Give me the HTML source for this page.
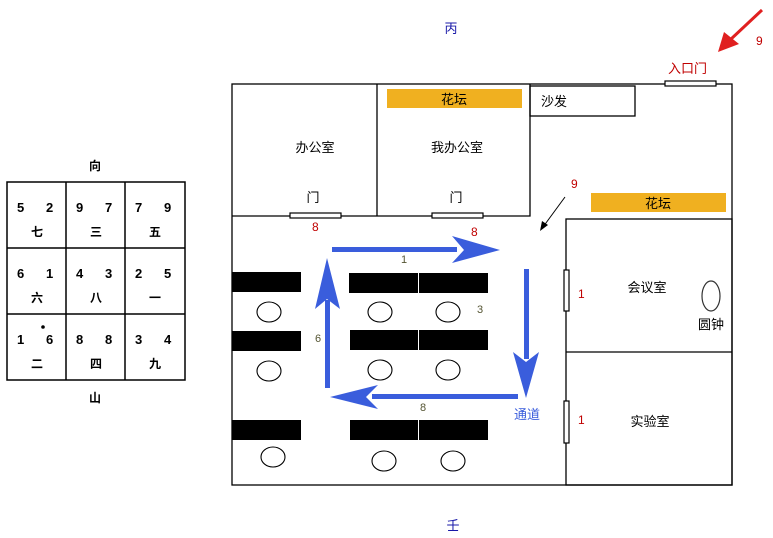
<!DOCTYPE html>
<html><head><meta charset="utf-8"><style>
html,body{margin:0;padding:0;background:#fff;width:773px;height:538px;overflow:hidden}
svg{display:block}
text{font-family:"Liberation Sans","Noto Sans CJK SC",sans-serif}
</style></head><body>
<svg width="773" height="538" viewBox="0 0 773 538" xmlns="http://www.w3.org/2000/svg">
<!-- grid -->
<g fill="none" stroke="#000" stroke-width="1.5">
<rect x="7" y="182" width="178" height="198"/>
<line x1="66" y1="182" x2="66" y2="380"/><line x1="125" y1="182" x2="125" y2="380"/>
<line x1="7" y1="248" x2="185" y2="248"/><line x1="7" y1="314" x2="185" y2="314"/>
</g>
<g font-size="13" font-weight="bold" fill="#000" font-family="Liberation Sans,Noto Sans CJK SC,sans-serif">
<text x="95" y="170" text-anchor="middle" font-size="12">向</text>
<text x="95" y="402" text-anchor="middle" font-size="12">山</text>
<text x="17" y="212">5</text><text x="46" y="212">2</text>
<text x="76" y="212">9</text><text x="105" y="212">7</text>
<text x="135" y="212">7</text><text x="164" y="212">9</text>
<text x="17" y="278">6</text><text x="46" y="278">1</text>
<text x="76" y="278">4</text><text x="105" y="278">3</text>
<text x="135" y="278">2</text><text x="164" y="278">5</text>
<text x="17" y="344">1</text><text x="46" y="344">6</text>
<text x="76" y="344">8</text><text x="105" y="344">8</text>
<text x="135" y="344">3</text><text x="164" y="344">4</text>
<g font-size="12" text-anchor="middle">
<text x="37" y="236">七</text><text x="96" y="236">三</text><text x="155" y="236">五</text>
<text x="37" y="302">六</text><text x="96" y="302">八</text><text x="155" y="302">一</text>
<text x="37" y="368">二</text><text x="96" y="368">四</text><text x="155" y="368">九</text>
</g></g>
<circle cx="43" cy="327" r="1.8" fill="#000"/>
<!-- building -->
<g fill="none" stroke="#000" stroke-width="1.3">
<rect x="232" y="84" width="500" height="401"/>
<polyline points="232,216 530,216 530,84"/>
<line x1="377" y1="84" x2="377" y2="216"/>
<rect x="566" y="219" width="166" height="266"/>
<line x1="566" y1="352" x2="732" y2="352"/>
<rect x="530" y="86" width="105" height="30"/>
</g>
<rect x="387" y="89" width="135" height="19" fill="#f0b020"/>
<rect x="591" y="193" width="135" height="19" fill="#f0b020"/>
<g fill="#fff" stroke="#000" stroke-width="1.2">
<rect x="290" y="213" width="51" height="5"/>
<rect x="432" y="213" width="51" height="5"/>
<rect x="665" y="81" width="51" height="5"/>
<rect x="564" y="270" width="5" height="41"/>
<rect x="564" y="401" width="5" height="42"/>
</g>
<g font-size="13" fill="#000" text-anchor="middle">
<text x="454" y="104">花坛</text>
<text x="658" y="208">花坛</text>
<text x="541" y="106" text-anchor="start">沙发</text>
<text x="315" y="152">办公室</text>
<text x="457" y="152">我办公室</text>
<text x="313" y="202">门</text>
<text x="456" y="202">门</text>
<text x="647" y="292">会议室</text>
<text x="711" y="329">圆钟</text>
<text x="650" y="426">实验室</text>
</g>
<ellipse cx="711" cy="296" rx="9" ry="15" fill="none" stroke="#333" stroke-width="1.2"/>
<g font-size="12" fill="#c00000">
<text x="312" y="231">8</text><text x="471" y="236">8</text>
<text x="578" y="298">1</text><text x="578" y="424">1</text>
<text x="571" y="188">9</text><text x="756" y="45">9</text>
<text x="668" y="73" font-size="13">入口门</text>
</g>
<text x="451" y="33" font-size="13" fill="#1818a8" text-anchor="middle">丙</text>
<text x="453" y="530" font-size="13" fill="#1818a8" text-anchor="middle">壬</text>
<!-- desks -->
<g fill="#000">
<rect x="232" y="272" width="69" height="20"/><rect x="232" y="331" width="69" height="20"/><rect x="232" y="420" width="69" height="20"/>
<rect x="349" y="273" width="69" height="20"/><rect x="419" y="273" width="69" height="20"/>
<rect x="350" y="330" width="68" height="20"/><rect x="419" y="330" width="69" height="20"/>
<rect x="350" y="420" width="68" height="20"/><rect x="419" y="420" width="69" height="20"/>
</g>
<g fill="none" stroke="#000" stroke-width="1.1">
<ellipse cx="269" cy="312" rx="12" ry="10"/><ellipse cx="269" cy="371" rx="12" ry="10"/><ellipse cx="273" cy="457" rx="12" ry="10"/>
<ellipse cx="380" cy="312" rx="12" ry="10"/><ellipse cx="448" cy="312" rx="12" ry="10"/>
<ellipse cx="380" cy="370" rx="12" ry="10"/><ellipse cx="448" cy="370" rx="12" ry="10"/>
<ellipse cx="384" cy="461" rx="12" ry="10"/><ellipse cx="453" cy="461" rx="12" ry="10"/>
</g>
<!-- blue arrows -->
<g fill="#3a5ddc">
<rect x="332" y="247" width="125" height="5"/><polygon points="452,236 500,250 452,263 464,250"/>
<rect x="524" y="269" width="5" height="90"/><polygon points="513,352 526,398 539,352 526,362"/>
<rect x="372" y="394" width="146" height="5"/><polygon points="378,385 330,397 378,409 366,397"/>
<rect x="325" y="300" width="5" height="88"/><polygon points="315,309 327,258 340,309 327,299"/>
</g>
<g font-size="11" fill="#555533" font-family="Liberation Mono,monospace">
<text x="401" y="263">1</text><text x="477" y="313">3</text><text x="315" y="342">6</text><text x="420" y="411">8</text>
</g>
<text x="527" y="419" font-size="13" fill="#3a5ddc" text-anchor="middle">通道</text>
<!-- small black arrow -->
<line x1="565" y1="197" x2="543" y2="227" stroke="#000" stroke-width="1"/>
<polygon points="540,231 542,221 548,225" fill="#000"/>
<!-- red arrow -->
<line x1="762" y1="10" x2="730" y2="40" stroke="#e02020" stroke-width="3"/>
<polygon points="718,52 724,32 739,44" fill="#e02020"/>
</svg>
</body></html>
